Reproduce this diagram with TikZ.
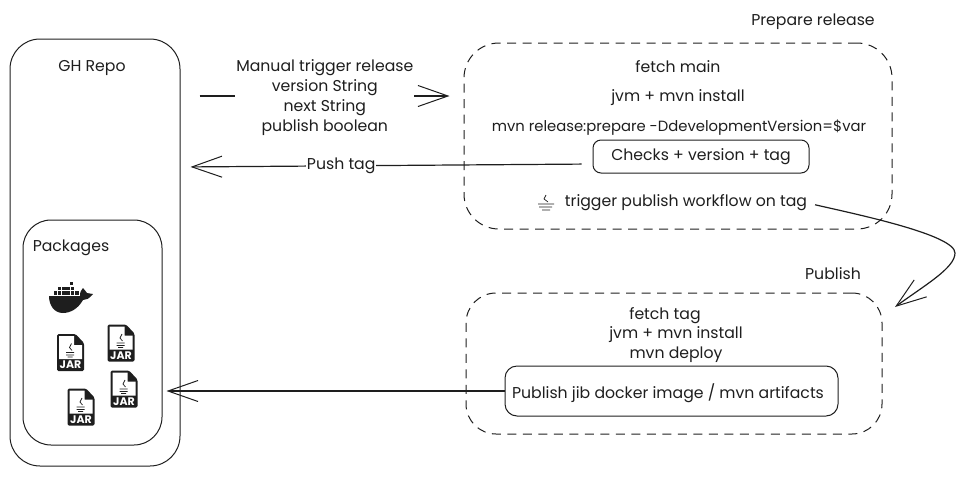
\documentclass[tikz,border=0pt]{standalone}
\usepackage{fontspec}
\setmainfont{Poppins}
\usetikzlibrary{arrows.meta, positioning, shapes.misc}
\definecolor{InkBlack}{RGB}{30, 30, 30}
\tikzset{
  solidbox/.style={rectangle, draw=InkBlack, line width=1pt, fill=none},
  dashbox/.style={rectangle, draw=InkBlack, line width=1pt, dash pattern=on 9pt off 6.5pt},
  txt/.style={font=\fontsize{15.7}{20}\selectfont, text=InkBlack, inner sep=0pt, align=center},
  lbl/.style={txt, fill=white, inner sep=1pt},
  arr/.style={-{Straight Barb[length=30pt,width=21pt,line width=1pt]}, line width=1.2pt, color=InkBlack},
  jaricon/.pic={
    \fill[InkBlack, rounded corners=1.5pt] (-13.5,-18.5) -- (5,-18.5) -- (13.5,-9.5) -- (13.5,18.5) -- (-13.5,18.5) -- cycle;
    \fill[white] (-11.5,-16.5) -- (3.5,-16.5) -- (3.5,-7.5) -- (11.5,-7.5) -- (11.5,6.5) -- (-11.5,6.5) -- cycle;
    \draw[InkBlack, line width=0.7pt] (1,-9) -- (-1,-5) -- (1.5,-2) (-4.5,0) -- (3.5,0) (-4.5,2.5) -- (3.5,2.5) (-3,4.5) -- (2,4.5);
    \node[font=\fontsize{11}{11}\selectfont\bfseries, text=white, inner sep=0pt] (-txt) at (0,12.5) {JAR};
  },
}
\begin{document}
\begin{tikzpicture}[x=1pt, y=-1pt]
  \useasboundingbox (0,0) rectangle (966,477);
  \node[solidbox, rounded corners=30pt, minimum width=170pt, minimum height=427pt] (repo) at (95,252.5) {};
  \node[solidbox, rounded corners=28pt, minimum width=139pt, minimum height=225pt] (pack) at (92.5,332.5) {};
  \node[dashbox, rounded corners=35pt, minimum width=428pt, minimum height=186pt] (prep) at (678,136) {};
  \node[dashbox, rounded corners=30pt, minimum width=416pt, minimum height=141pt] (pub) at (674,363.5) {};
  \node[solidbox, rounded corners=8pt, minimum width=216pt, minimum height=33pt] (chk) at (701,156.5) {};
  \node[solidbox, rounded corners=12pt, minimum width=333pt, minimum height=50pt] (jib) at (671.5,391) {};
  \node[txt] (repolbl) at (92,68) {GH Repo};
  \node[txt] (packlbl) at (71,248) {Packages};
  \node[txt] (preplbl) at (813,22) {Prepare release};
  \node[txt] (publbl) at (833,274) {Publish};
  \node[txt] (fmain) at (678,67) {fetch main};
  \node[txt] (jvma) at (678,98) {jvm + mvn install};
  \node[txt, font=\fontsize{14.8}{20}\selectfont] (rel) at (679,128) {mvn release:prepare -DdevelopmentVersion=\$var};
  \node[txt] (chklbl) at (chk) {Checks + version + tag};
  \node[txt] (trg) at (686,203) {trigger publish workflow on tag};
  \node[txt] (ftag) at (665,316) {fetch tag};
  \node[txt] (jvmb) at (676,335) {jvm + mvn install};
  \node[txt] (depl) at (676,355) {mvn deploy};
  \node[txt] (jiblbl) at (668,393) {Publish jib docker image / mvn artifacts};
  \draw[InkBlack, line width=0.7pt] (546,195) -- (544,199) -- (548,202) (538,204) -- (554,204) (539,207) -- (552,207) (542,210) -- (550,210);
  \pic (jara) at (70.5,352.5) {jaricon};
  \pic (jarb) at (121,343) {jaricon};
  \pic (jarc) at (124,389) {jaricon};
  \pic (jard) at (81,407) {jaricon};
  \fill[InkBlack] (49,296) -- (80,296) .. controls (80,292) and (81,290) .. (83,288) .. controls (85,290) and (86,292) .. (87,293) -- (93,294) .. controls (89,299) and (86,300) .. (83,300) .. controls (78,309) and (70,313) .. (63,313) .. controls (54,313) and (49,305) .. cycle;
  \foreach \xa in {53.5,57.8,62.1,66.4,70.7,75} \fill[InkBlack] (\xa,291) rectangle ++(3.6,3.6);
  \foreach \xa in {57.8,62.1,66.4,70.7} \fill[InkBlack] (\xa,286.6) rectangle ++(3.6,3.6);
  \fill[InkBlack] (69.5,281.5) rectangle ++(3.6,3.6);
  \draw[arr, shorten <=19pt, shorten >=14pt] (repo.east |- 0,96) -- node[lbl, pos=0.51, yshift=-1.5pt] (man) {Manual trigger release\\version String\\next String\\publish boolean} (prep.west |- 0,96);
  \draw[arr, shorten <=11pt, shorten >=10pt] (chk.west |- 0,164) -- node[lbl, pos=0.61] (push) {Push tag} (repo.east |- 0,167);
  \draw[arr, shorten >=4pt] (jib.west) -- (pack.east |- jib.west);
  \coordinate (bendpt) at (955,253);
  \coordinate (pubtip) at (895,307);
  \draw[arr, shorten <=8pt] (trg.east) .. controls (860,215) and (955,235) .. (bendpt) .. controls (955,268) and (925,285) .. (pubtip);
\end{tikzpicture}
\end{document}
